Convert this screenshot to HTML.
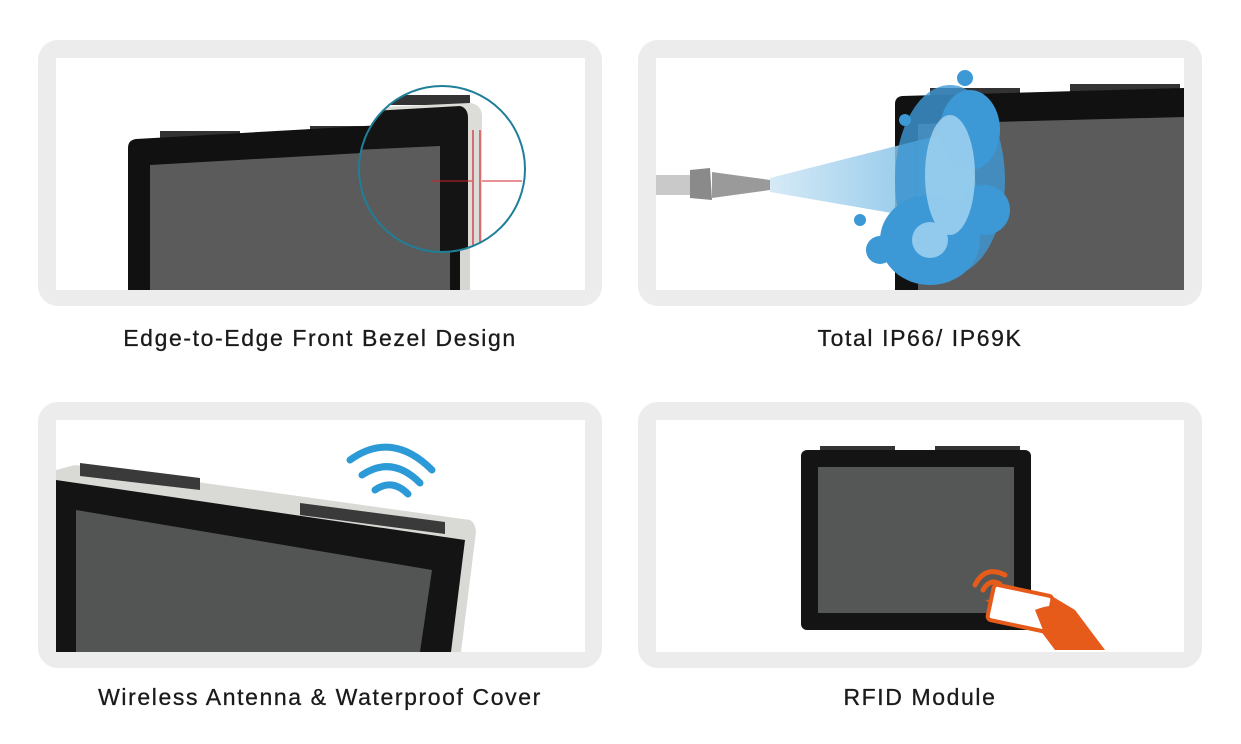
<!DOCTYPE html>
<html><head><style>
body{margin:0;background:#fff;width:1241px;height:744px;overflow:hidden;font-family:"Liberation Sans",sans-serif}
.l{position:absolute;font-size:23px;color:#1a1a1a;text-align:center;width:564px;letter-spacing:1.6px;-webkit-text-stroke:0.3px #1a1a1a}
</style></head><body>
<svg width="1241" height="744" style="position:absolute;left:0;top:0">
<defs>
<clipPath id="c1"><rect x="56" y="58" width="529" height="232"/></clipPath>
<clipPath id="c2"><rect x="656" y="58" width="528" height="232"/></clipPath>
<clipPath id="c3"><rect x="56" y="420" width="529" height="232"/></clipPath>
<clipPath id="cc"><circle cx="442" cy="169" r="83"/></clipPath>
<linearGradient id="jet" x1="0" x2="1"><stop offset="0" stop-color="#cfe6f5"/><stop offset="1" stop-color="#5aaee0"/></linearGradient>
</defs>
<g fill="#ececec">
<rect x="38" y="40" width="564" height="266" rx="20"/>
<rect x="638" y="40" width="564" height="266" rx="20"/>
<rect x="38" y="402" width="564" height="266" rx="20"/>
<rect x="638" y="402" width="564" height="266" rx="20"/>
</g>
<g fill="#fff">
<rect x="56" y="58" width="529" height="232"/>
<rect x="656" y="58" width="528" height="232"/>
<rect x="56" y="420" width="529" height="232"/>
<rect x="656" y="420" width="528" height="232"/>
</g>
<!-- panel1 -->
<g clip-path="url(#c1)">
<rect x="160" y="131" width="80" height="8" fill="#333"/>
<rect x="310" y="126" width="80" height="8" fill="#333"/>
<path d="M128 148 Q128 140 136 139 L470 120 L470 300 L128 300 Z" fill="#111"/>
<path d="M150 165 L450 148 L450 290 L150 290 Z" fill="#5a5b5a"/>
<rect x="460" y="120" width="10" height="180" fill="#d6d6d2"/>
</g>
<circle cx="442" cy="169" r="83" fill="#fff"/>
<g clip-path="url(#cc)">
<rect x="370" y="95" width="100" height="10" fill="#333"/>
<path d="M360 108 L470 103 Q480 104 482 114 L482 260 L360 260Z" fill="#dcdcd8"/>
<path d="M355 112 L460 106 Q468 108 468 118 L468 260 L355 260Z" fill="#141414"/>
<path d="M355 150 L440 146 L440 260 L355 260Z" fill="#5a5b5a"/>
<line x1="473" y1="130" x2="473" y2="245" stroke="#d2232a" stroke-width="1.2"/>
<line x1="480" y1="130" x2="480" y2="245" stroke="#d2232a" stroke-width="1.2"/>
<line x1="432" y1="181" x2="472" y2="181" stroke="#d2232a" stroke-width="1"/>
<line x1="482" y1="181" x2="522" y2="181" stroke="#d2232a" stroke-width="1"/>
</g>
<circle cx="442" cy="169" r="83" fill="none" stroke="#1f7f98" stroke-width="2"/>
<!-- panel2 -->
<g clip-path="url(#c2)">
<rect x="930" y="88" width="90" height="8" fill="#333"/>
<rect x="1070" y="84" width="110" height="8" fill="#333"/>
<path d="M895 104 Q895 97 902 96 L1184 88 L1184 300 L895 300Z" fill="#111"/>
<path d="M918 124 L1184 117 L1184 290 L918 290Z" fill="#5a5b5a"/>
<rect x="656" y="175" width="35" height="20" fill="#c9c9c9"/>
<path d="M690 170 L710 168 L712 200 L690 198Z" fill="#8a8a8a"/>
<path d="M712 172 L770 180 L770 190 L712 198Z" fill="#9a9a9a"/>
<path d="M770 178 L960 130 L990 230 L770 192Z" fill="url(#jet)" opacity="0.85"/>
<g fill="#3d98d6">
<ellipse cx="950" cy="180" rx="55" ry="95" opacity="0.8"/>
<ellipse cx="970" cy="130" rx="30" ry="40"/>
<ellipse cx="930" cy="240" rx="50" ry="45"/>
<circle cx="880" cy="250" r="14"/><circle cx="985" cy="210" r="25"/>
<circle cx="965" cy="78" r="8"/><circle cx="905" cy="120" r="6"/>
<circle cx="860" cy="220" r="6"/>
</g>
<g fill="#a6d7f2" opacity="0.8"><ellipse cx="950" cy="175" rx="25" ry="60"/><circle cx="930" cy="240" r="18"/></g>
</g>
<!-- panel3 -->
<g clip-path="url(#c3)">
<path d="M56 470 L75 465 L470 520 Q478 525 475 540 L460 660 L56 660Z" fill="#d9d9d5"/>
<path d="M80 463 L200 478 L200 490 L80 476Z" fill="#3a3a3a"/>
<path d="M300 503 L445 522 L445 534 L300 515Z" fill="#3a3a3a"/>
<path d="M56 480 L465 540 L450 660 L56 660Z" fill="#141414"/>
<path d="M76 510 L432 570 L420 652 L76 652Z" fill="#535554"/>
</g>
<g fill="none" stroke="#2c9ad7" stroke-width="7" stroke-linecap="round">
<path d="M350 460 Q392 430 432 470"/>
<path d="M362 475 Q392 455 420 483"/>
<path d="M375 490 Q392 478 408 494"/>
</g>
<!-- panel4 -->
<rect x="820" y="446" width="75" height="6" fill="#333"/>
<rect x="935" y="446" width="85" height="6" fill="#333"/>
<rect x="801" y="450" width="230" height="180" rx="6" fill="#141414"/>
<rect x="818" y="467" width="196" height="146" fill="#555756"/>
<path d="M985 600 L1050 595 L1075 610 L1105 650 L1055 650 L1040 630 Z" fill="#e65a1a"/>
<rect x="990" y="590" width="60" height="36" rx="4" fill="#fff" stroke="#e65a1a" stroke-width="4" transform="rotate(12 1020 608)"/>
<path d="M1035 610 Q1060 600 1060 615 L1045 635Z" fill="#e65a1a"/>
<g fill="none" stroke="#e65a1a" stroke-width="5" stroke-linecap="round">
<path d="M975 585 Q985 565 1005 575"/>
<path d="M983 590 Q990 578 1000 584"/>
</g>
</svg>
<div class="l" style="left:38px;top:325px">Edge-to-Edge Front Bezel Design</div>
<div class="l" style="left:638px;top:325px">Total IP66/ IP69K</div>
<div class="l" style="left:38px;top:684px">Wireless Antenna &amp; Waterproof Cover</div>
<div class="l" style="left:638px;top:684px">RFID Module</div>
</body></html>
